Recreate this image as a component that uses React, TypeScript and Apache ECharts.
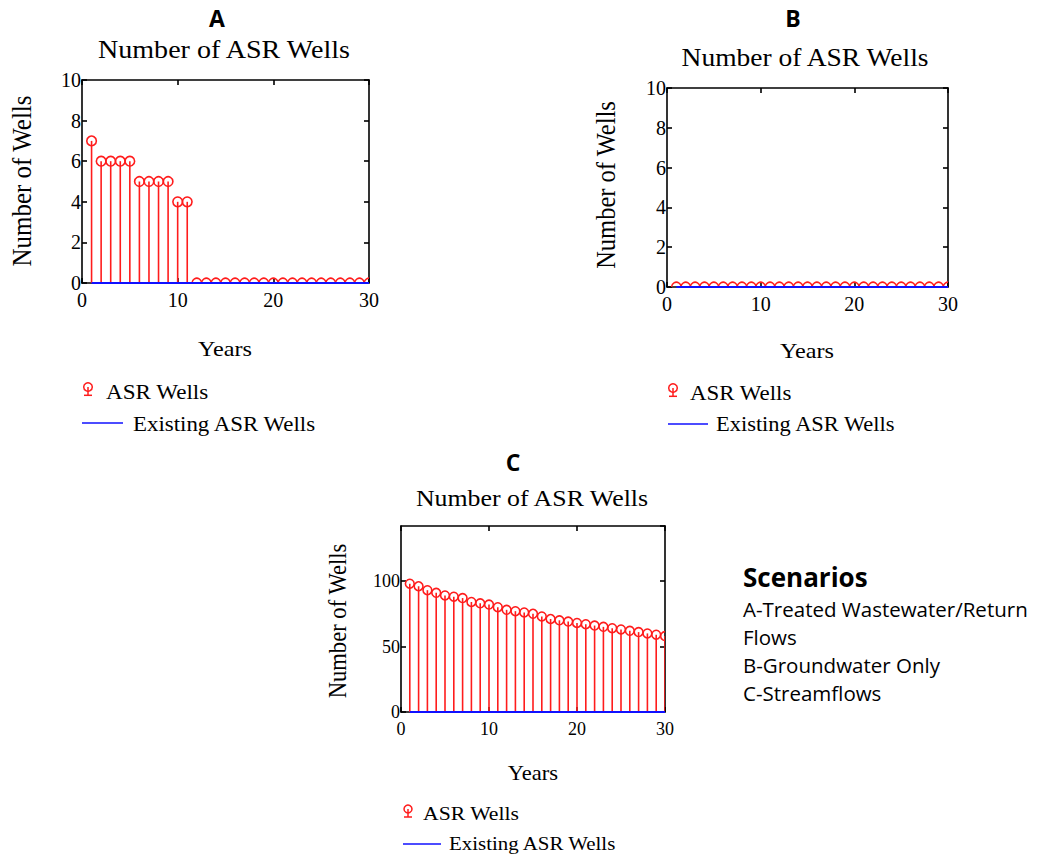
import React, { useEffect, useRef } from "react";
import * as echarts from "echarts";

// ---- data ----
const years = [1, 2, 3, 4, 5, 6, 7, 8, 9, 10, 11, 12, 13, 14, 15, 16, 17, 18, 19, 20, 21, 22, 23, 24, 25, 26, 27, 28, 29, 30];
const asrWellsA = [7, 6, 6, 6, 6, 5, 5, 5, 5, 4, 4, 0, 0, 0, 0, 0, 0, 0, 0, 0, 0, 0, 0, 0, 0, 0, 0, 0, 0, 0];
const asrWellsB = [0, 0, 0, 0, 0, 0, 0, 0, 0, 0, 0, 0, 0, 0, 0, 0, 0, 0, 0, 0, 0, 0, 0, 0, 0, 0, 0, 0, 0, 0];
const asrWellsC = [98, 96, 93, 91, 89, 88, 87, 84, 83, 82, 80, 78, 77, 76, 75, 73, 71, 70, 69, 68, 67, 66, 65, 64, 63, 62, 61, 60, 59, 58];
const existingWells = [0, 0, 0, 0, 0, 0, 0, 0, 0, 0, 0, 0, 0, 0, 0, 0, 0, 0, 0, 0, 0, 0, 0, 0, 0, 0, 0, 0, 0, 0];
const panelLetters = ["A", "B", "C"];
const chartTitle = "Number of ASR Wells";
const yAxisName = "Number of Wells";
const xAxisName = "Years";
const legendNames = ["ASR Wells", "Existing ASR Wells"];
const scenarioTitle = "Scenarios";
const scenarioLines = ["A-Treated Wastewater/Return", "Flows", "B-Groundwater Only", "C-Streamflows"];
const xRange = [0, 30, 10]; // min, max, interval
const yRangeAB = [0, 10, 2];
const yRangeC = [0, 142, 50];

const SERIF = "Liberation Serif";
const SANS = "Open Sans";
const RED = "#ff1c1c";
const BLUE = "#1010ff";

export default function App() {
  const ref = useRef<HTMLDivElement>(null);

  useEffect(() => {
    if (!ref.current) return;
    const chart = echarts.init(ref.current, null, { renderer: "svg" });

    const grids = [
      { left: 82, top: 80, width: 287, height: 203 },
      { left: 667, top: 88, width: 281, height: 199 },
      { left: 401, top: 526, width: 264, height: 186 },
    ];
    const yRanges = [yRangeAB, yRangeAB, yRangeC];
    const tickFont = [20, 20, 18];
    const xLabelMargin = [7, 7, 8];
    const radius = [4.8, 4.8, 4.4];
    const values = [asrWellsA, asrWellsB, asrWellsC];

    const axisLine = { show: true, onZero: false, lineStyle: { color: "#000", width: 1.6 } };
    const axisTick = { show: true, inside: true, length: 5, lineStyle: { color: "#000", width: 1.6 } };

    const xAxes: any[] = [];
    const yAxes: any[] = [];
    const series: any[] = [];

    grids.forEach((_, g) => {
      const [ymin, ymax, yint] = yRanges[g];
      const labelStyle = {
        fontFamily: SERIF,
        fontSize: tickFont[g],
        fontWeight: "normal",
        color: "#000",
      };
      ["bottom", "top"].forEach((pos, k) => {
        xAxes.push({
          gridIndex: g,
          type: "value",
          position: pos,
          min: xRange[0],
          max: xRange[1],
          interval: xRange[2],
          axisLine,
          axisTick,
          splitLine: { show: false },
          axisLabel: { show: k === 0, margin: xLabelMargin[g], ...labelStyle },
        });
      });
      ["left", "right"].forEach((pos, k) => {
        yAxes.push({
          gridIndex: g,
          type: "value",
          position: pos,
          min: ymin,
          max: ymax,
          interval: yint,
          axisLine,
          axisTick,
          splitLine: { show: false },
          axisLabel: {
            show: k === 0,
            margin: 1,
            showMaxLabel: g === 2 ? false : true,
            ...labelStyle,
          },
        });
      });

      const r = radius[g];
      series.push({
        type: "custom",
        name: legendNames[0],
        xAxisIndex: g * 2,
        yAxisIndex: g * 2,
        clip: true,
        z: 3,
        data: years.map((yr, j) => [yr, values[g][j]]),
        encode: { x: 0, y: 1 },
        renderItem: (params: any, api: any) => {
          const x = api.value(0);
          const v = api.value(1);
          const top = api.coord([x, v]);
          const base = api.coord([x, 0]);
          return {
            type: "group",
            children: [
              {
                type: "line",
                shape: { x1: top[0], y1: top[1], x2: base[0], y2: base[1] },
                style: { stroke: RED, lineWidth: 1.6 },
              },
              {
                type: "circle",
                shape: { cx: top[0], cy: top[1], r },
                style: { stroke: RED, fill: "none", lineWidth: 1.6 },
              },
            ],
          };
        },
      });
      series.push({
        type: "line",
        name: legendNames[1],
        xAxisIndex: g * 2,
        yAxisIndex: g * 2,
        data: years.map((yr, j) => [yr, existingWells[j]]),
        symbol: "none",
        lineStyle: { color: BLUE, width: 2 },
        z: 5,
        clip: false,
      });
    });

    const serifText = (
      text: string,
      x: number,
      y: number,
      size: number,
      align: string,
      opts: any = {}
    ) => ({
      type: "text",
      x,
      y,
      scaleX: opts.scaleX ?? 1.1,
      scaleY: opts.scaleY ?? 1,
      rotation: opts.rotation ?? 0,
      style: {
        text,
        fontFamily: opts.font ?? SERIF,
        fontSize: size,
        fontWeight: opts.bold ? "bold" : "normal",
        fill: "#000",
        textAlign: align,
        textVerticalAlign: "middle",
        align,
        verticalAlign: "middle",
      },
    });

    const legendIcon = (cx: number, cy: number, r: number) => [
      { type: "circle", shape: { cx, cy, r }, style: { stroke: RED, fill: "none", lineWidth: 1.5 } },
      { type: "line", shape: { x1: cx, y1: cy, x2: cx, y2: cy + r + 4 }, style: { stroke: RED, lineWidth: 1.5 } },
      { type: "line", shape: { x1: cx - 4, y1: cy + r + 4, x2: cx + 4, y2: cy + r + 4 }, style: { stroke: RED, lineWidth: 1.5 } },
    ];

    const panels = [
      { letter: [217, 18], title: [224, 49, 25.5], yname: [22, 181, 25], xname: [225, 348, 22],
        icon: [88, 387, 4.3], l1: [106, 392, 21], line: [82, 123, 423], l2: [133, 424, 20.8] },
      { letter: [793, 18], title: [805, 58, 25], yname: [606, 185, 24.5], xname: [807, 350, 22],
        icon: [673, 388, 4.3], l1: [690, 393, 20.8], line: [668, 708, 424], l2: [716, 424, 20.4] },
      { letter: [513, 462], title: [532, 498, 23.5], yname: [338, 621, 22.6], xname: [533, 773, 20.5],
        icon: [408, 809, 4.0], l1: [423, 813, 19.7], line: [403, 441, 844], l2: [449, 843, 19] },
    ];

    const graphics: any[] = [];
    panels.forEach((p, i) => {
      graphics.push(serifText(panelLetters[i], p.letter[0], p.letter[1], 23, "center", { font: SANS, bold: true, scaleX: 1 }));
      graphics.push(serifText(chartTitle, p.title[0], p.title[1], p.title[2], "center"));
      graphics.push(serifText(yAxisName, p.yname[0], p.yname[1], p.yname[2], "center", { rotation: Math.PI / 2, scaleX: 1, scaleY: 1.1 }));
      graphics.push(serifText(xAxisName, p.xname[0], p.xname[1], p.xname[2], "center"));
      graphics.push(...legendIcon(p.icon[0], p.icon[1], p.icon[2]));
      graphics.push(serifText(legendNames[0], p.l1[0], p.l1[1], p.l1[2], "left"));
      graphics.push({ type: "line", shape: { x1: p.line[0], y1: p.line[2], x2: p.line[1], y2: p.line[2] }, style: { stroke: BLUE, lineWidth: 1.6 } });
      graphics.push(serifText(legendNames[1], p.l2[0], p.l2[1], p.l2[2], "left"));
    });
    graphics.push(serifText(scenarioTitle, 743, 577, 26, "left", { font: SANS, bold: true, scaleX: 1 }));
    scenarioLines.forEach((t, k) => {
      graphics.push(serifText(t, 743, 609 + k * 28, 20.5, "left", { font: SANS, scaleX: 1 }));
    });

    chart.setOption({
      animation: false,
      backgroundColor: "#fff",
      textStyle: { fontFamily: SERIF, color: "#000" },
      grid: grids.map((g) => ({ ...g, containLabel: false })),
      xAxis: xAxes,
      yAxis: yAxes,
      series,
      graphic: graphics,
    });

    return () => chart.dispose();
  }, []);

  return (
    <div
      ref={ref}
      style={{ position: "fixed", left: 0, top: 0, width: 1039, height: 856, background: "#fff" }}
    />
  );
}
